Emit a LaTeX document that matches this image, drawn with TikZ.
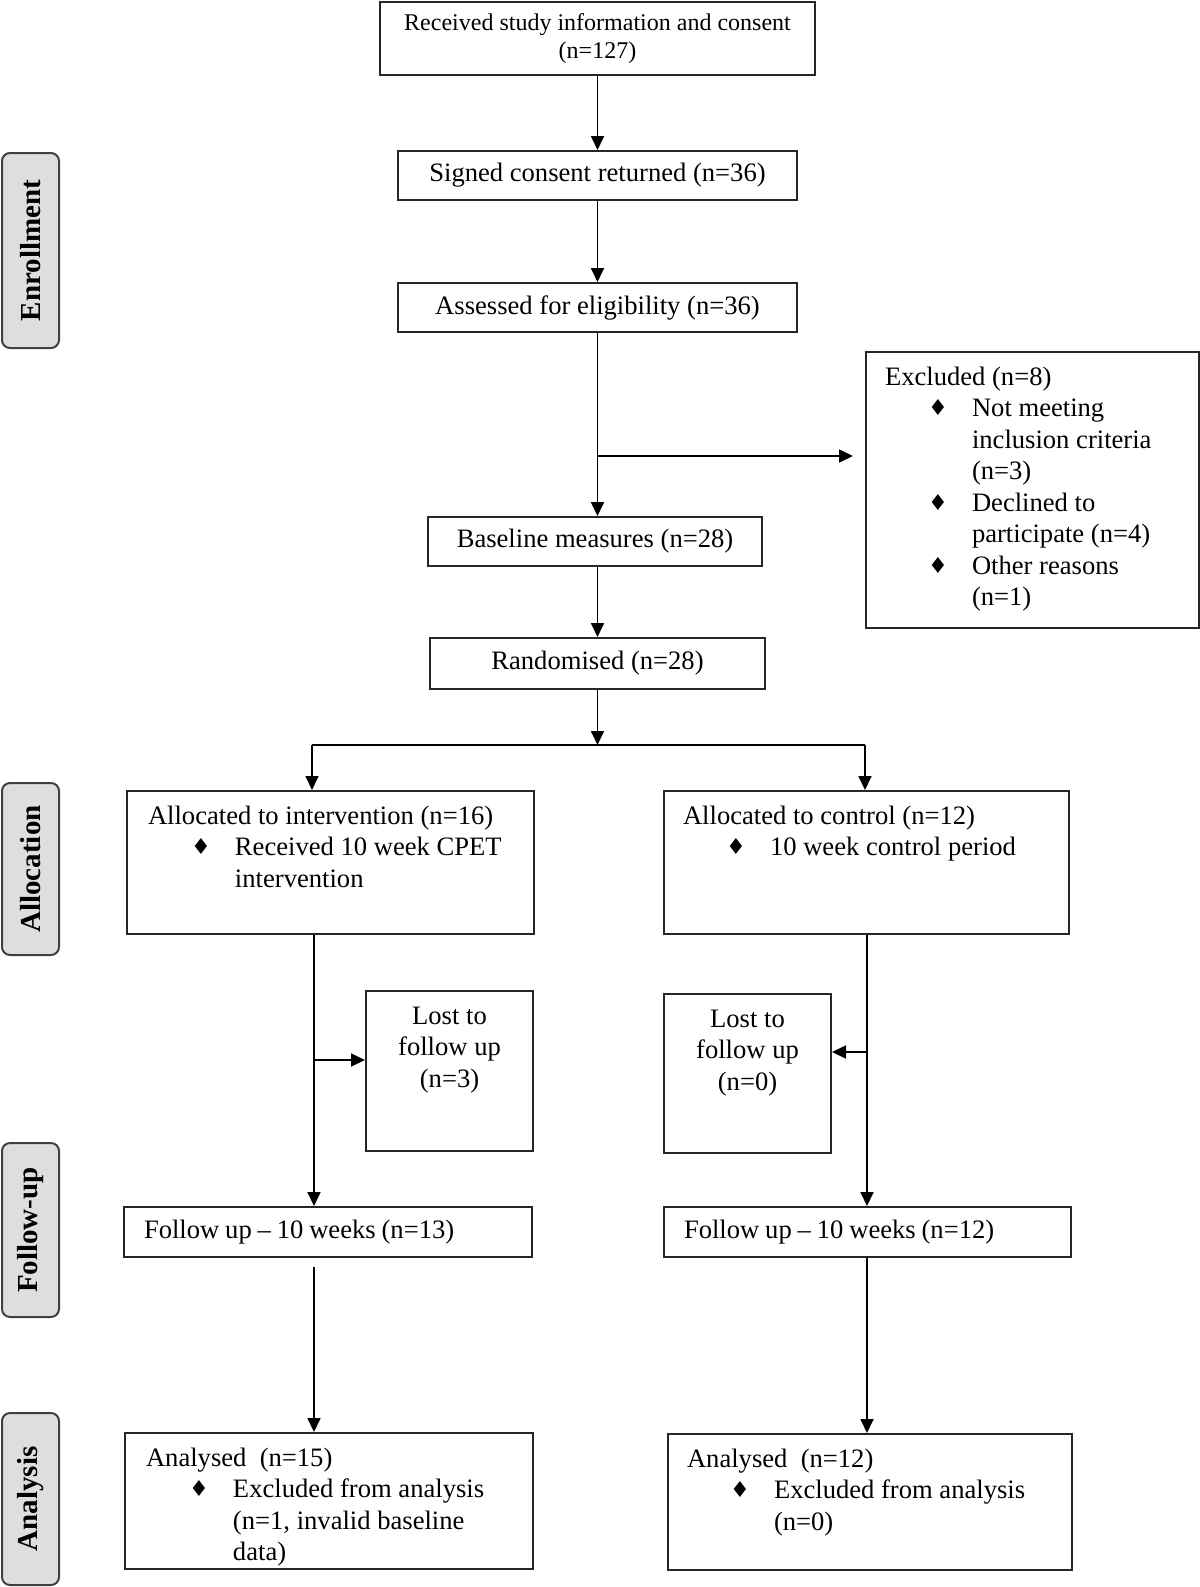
\documentclass[tikz,border=0pt]{standalone}
\usepackage{fontspec}
\setmainfont{Liberation Serif}
\newfontfamily\symf{DejaVu Sans}
\usetikzlibrary{arrows.meta}
\newcommand\dia{\makebox[43.5pt][l]{\makebox[53pt][c]{\raisebox{0.3pt}{\symf\fontsize{11}{11}\selectfont ♦}}}}
\newcommand\ind{\hspace*{43.5pt}}
\newcommand\tbox[3]{\parbox[c][#2][t]{#1}{\raggedright\rule{0pt}{16.5pt}#3}}
\tikzset{
 box/.style={draw=black!85, line width=1pt, inner sep=0pt, font=\fontsize{13.3}{15.75}\selectfont},
 cbox/.style={box, align=center},
 side/.style={draw=black!75, line width=1pt, fill=black!13, rounded corners=4pt, rotate=90, inner sep=0pt, font=\bfseries\fontsize{14.5}{16}\selectfont, minimum height=28.5pt},
 arr/.style={line width=0.85pt, -{Triangle[width=6.5pt,length=7pt]}},
 ln/.style={line width=0.85pt}
}
\begin{document}
\begin{tikzpicture}[x=0.5pt,y=-0.5pt]
\useasboundingbox (0,0) rectangle (1200,1587);
% side labels
\node[side, minimum width=97.5pt] (sEnr) at (30.5,250.5) {Enrollment};
\node[side, minimum width=86pt] (sAll) at (30.5,869) {Allocation};
\node[side, minimum width=87pt] (sFol) at (30.5,1230) {Follow-up};
\node[side, minimum width=86pt] (sAna) at (30.5,1499) {Analysis};
% boxes
\node[cbox, minimum width=217.5pt, minimum height=36.5pt, font=\fontsize{12}{13.65}\selectfont] (rec) at (597.5,38.5) {Received study information and consent\\(n=127)};
\node[cbox, minimum width=199.5pt, minimum height=24.5pt] (sign) at (597.5,175.5) {Signed consent returned (n=36)};
\node[cbox, minimum width=199.5pt, minimum height=24.5pt] (elig) at (597.5,307.5) {Assessed for eligibility (n=36)};
\node[box, anchor=north west, inner xsep=9.5pt] (excl) at (865,351) {\tbox{147.5pt}{138pt}{Excluded (n=8)\\ \dia Not meeting\\ \ind inclusion criteria\\ \ind (n=3)\\ \dia Declined to\\ \ind participate (n=4)\\ \dia Other reasons\\ \ind (n=1)}};
\node[cbox, minimum width=167pt, minimum height=24.5pt] (base) at (595,541.5) {Baseline measures (n=28)};
\node[cbox, minimum width=167.5pt, minimum height=25.5pt] (rand) at (597.5,663.5) {Randomised (n=28)};
\node[box, anchor=north west, inner xsep=10.5pt] (allocI) at (126,790) {\tbox{182.5pt}{71.5pt}{Allocated to intervention (n=16)\\ \dia Received 10 week CPET\\ \ind intervention}};
\node[box, anchor=north west, inner xsep=9.5pt] (allocC) at (663,790) {\tbox{183.5pt}{71.5pt}{Allocated to control (n=12)\\ \dia 10 week control period}};
\node[box, anchor=north west] (lostI) at (365,990) {\tbox{83.5pt}{80pt}{\centering Lost to\\ follow up\\ (n=3)}};
\node[box, anchor=north west] (lostC) at (663,993) {\tbox{83.5pt}{79.5pt}{\centering Lost to\\ follow up\\ (n=0)}};
\node[box, anchor=north west, minimum height=25pt, text width=184pt, inner xsep=10pt, align=left] (fuI) at (123,1206) {\spaceskip=0.88\fontdimen2\font Follow up – 10 weeks (n=13)};
\node[box, anchor=north west, minimum height=25pt, text width=183.5pt, inner xsep=10pt, align=left] (fuC) at (663,1206) {\spaceskip=0.88\fontdimen2\font Follow up – 10 weeks (n=12)};
\node[box, anchor=north west, inner xsep=10.5pt] (anI) at (124,1432) {\tbox{183pt}{68pt}{Analysed~~(n=15)\\ \dia Excluded from analysis\\ \ind (n=1, invalid baseline\\ \ind data)}};
\node[box, anchor=north west, inner xsep=9.5pt] (anC) at (667,1433) {\tbox{183pt}{68pt}{Analysed~~(n=12)\\ \dia Excluded from analysis\\ \ind (n=0)}};
% connectors
\draw[arr] (rec.south) -- (sign.north);
\draw[arr] (sign.south) -- (elig.north);
\coordinate (br) at (597.5,456);
\draw[arr] (elig.south) -- (elig.south |- base.north);
\draw[arr, shorten >=6pt] (br) -- (excl.west |- br);
\draw[arr] (base.south -| br) -- (rand.north -| br);
\coordinate (sp) at (597.5,745);
\coordinate (spL) at (312,745);
\coordinate (spR) at (865,745);
\draw[arr] (rand.south) -- (sp);
\draw[ln] (spL) -- (spR);
\draw[arr] (spL) -- (spL |- allocI.north);
\draw[arr] (spR) -- (spR |- allocC.north);
\coordinate (cL) at (314,1060);
\coordinate (cR) at (867,1052);
\draw[arr] (cL |- allocI.south) -- (cL |- fuI.north);
\draw[arr] (cL) -- (cL -| lostI.west);
\draw[arr] (cR |- allocC.south) -- (cR |- fuC.north);
\draw[arr] (cR) -- (cR -| lostC.east);
\coordinate (gL) at (314,1267);
\draw[arr] (gL) -- (gL |- anI.north);
\draw[arr] (cR |- fuC.south) -- (cR |- anC.north);
\end{tikzpicture}
\end{document}
